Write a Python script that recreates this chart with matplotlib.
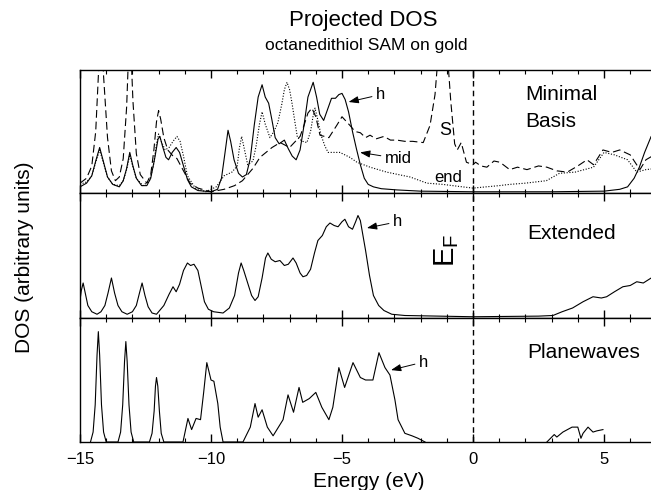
import matplotlib
matplotlib.use('Agg')
import matplotlib.pyplot as plt
from matplotlib.ticker import MultipleLocator, NullLocator

plt.rcParams['font.family'] = ['Liberation Sans', 'DejaVu Sans']

# --- Minimal basis panel (top) ---
min_h_e = [-15.0, -14.75, -14.55, -14.4, -14.25, -14.1, -13.95, -13.75, -13.5, -13.35, -13.22, -13.1,
           -12.98, -12.85, -12.65, -12.45, -12.3, -12.15, -12.02, -11.95, -11.85, -11.72, -11.62, -11.48,
           -11.33, -11.2, -11.05, -10.9, -10.75, -10.5, -10.0, -9.75, -9.6, -9.47, -9.35, -9.25, -9.12,
           -8.95, -8.8, -8.65, -8.5, -8.35, -8.2, -8.05, -7.93, -7.8, -7.68, -7.55, -7.4, -7.2, -7.05,
           -6.9, -6.75, -6.6, -6.45, -6.3, -6.1, -5.97, -5.85, -5.7, -5.55, -5.4, -5.25, -5.12, -5.0,
           -4.88, -4.75, -4.6, -4.45, -4.3, -4.15, -4.0, -3.8, -3.5, -2.9, -2.0, 0.0, 3.0, 5.0, 5.6,
           5.9, 6.15, 6.35, 6.55, 6.8, 7.0]
min_h_dos = [0.05, 0.08, 0.14, 0.26, 0.37, 0.25, 0.13, 0.07, 0.05, 0.10, 0.20, 0.33,
             0.22, 0.12, 0.06, 0.06, 0.12, 0.28, 0.44, 0.46, 0.38, 0.29, 0.27, 0.33,
             0.37, 0.33, 0.22, 0.11, 0.05, 0.02, 0.01, 0.03, 0.12, 0.32, 0.51, 0.42, 0.27,
             0.16, 0.13, 0.15, 0.28, 0.55, 0.78, 0.88, 0.78, 0.73, 0.60, 0.45, 0.40, 0.43, 0.36,
             0.30, 0.27, 0.35, 0.55, 0.78, 0.90, 0.78, 0.64, 0.59, 0.68, 0.77, 0.77, 0.80, 0.81,
             0.76, 0.66, 0.50, 0.36, 0.23, 0.12, 0.07, 0.05, 0.035, 0.025, 0.015, 0.01, 0.01, 0.015, 0.03,
             0.05, 0.12, 0.21, 0.33, 0.46, 0.50]

min_s_e = [-15.0, -14.75, -14.55, -14.4, -14.3, -14.2, -14.1, -13.95, -13.8, -13.65, -13.5, -13.35,
           -13.22, -13.1, -12.98, -12.85, -12.7, -12.45, -12.3, -12.18, -12.08, -12.0, -11.92, -11.8,
           -11.65, -11.45, -11.3, -11.05, -10.8, -10.5, -10.0, -9.5, -9.1, -8.8, -8.4, -8.13, -7.9,
           -7.67, -7.36, -7.0, -6.6, -6.45, -6.3, -6.15, -6.0, -5.84, -5.5, -5.2, -5.0, -4.7, -4.5,
           -4.3, -4.1, -3.93, -3.7, -3.4, -3.15, -2.9, -2.6, -2.3, -1.9, -1.64, -1.45, -1.3, -1.2,
           -1.0, -0.85, -0.7, -0.6, -0.45, -0.25, 0.0, 0.1, 0.3, 0.53, 0.8, 1.03, 1.4, 1.7, 2.06,
           2.5, 2.82, 3.2, 3.6, 4.0, 4.35, 4.6, 4.96, 5.3, 5.6, 6.0, 6.37, 6.6, 7.0]
min_s_dos = [0.08, 0.12, 0.22, 0.50, 0.95, 1.40, 0.95, 0.45, 0.18, 0.10, 0.13, 0.28,
             0.70, 1.40, 0.75, 0.32, 0.15, 0.08, 0.15, 0.35, 0.58, 0.67, 0.60, 0.45,
             0.35, 0.30, 0.28, 0.18, 0.08, 0.04, 0.01, 0.03, 0.06, 0.10, 0.20, 0.29, 0.33,
             0.37, 0.41, 0.37, 0.46, 0.55, 0.65, 0.69, 0.62, 0.47, 0.45, 0.55, 0.62, 0.55, 0.50,
             0.49, 0.45, 0.47, 0.44, 0.46, 0.43, 0.43, 0.42, 0.42, 0.41, 0.55, 0.80, 1.20, 1.40,
             1.20, 0.75, 0.40, 0.35, 0.41, 0.25, 0.23, 0.25, 0.22, 0.21, 0.26, 0.25, 0.19, 0.21, 0.19,
             0.22, 0.21, 0.18, 0.17, 0.22, 0.27, 0.23, 0.35, 0.33, 0.35, 0.31, 0.19, 0.27, 0.32]

min_end_e = [-15.0, -14.75, -14.55, -14.4, -14.25, -14.1, -13.95, -13.75, -13.5, -13.35, -13.22, -13.1,
             -12.98, -12.85, -12.6, -12.35, -12.2, -12.08, -12.0, -11.9, -11.75, -11.6, -11.45, -11.3,
             -11.18, -11.05, -10.9, -10.6, -10.2, -9.8, -9.5, -9.2, -9.0, -8.92, -8.83, -8.72, -8.6,
             -8.4, -8.28, -8.15, -8.05, -7.93, -7.75, -7.6, -7.45, -7.3, -7.2, -7.1, -7.0, -6.9,
             -6.8, -6.7, -6.5, -6.34, -6.2, -6.1, -6.03, -5.93, -5.8, -5.65, -5.53, -5.08, -4.7,
             -4.43, -3.93, -3.3, -2.4, -1.76, -1.15, -0.4, 0.0, 1.0, 1.4, 2.0, 2.8, 3.3, 3.9, 4.6,
             5.0, 5.4, 5.9, 6.25, 6.6, 7.0]
min_end_dos = [0.07, 0.09, 0.14, 0.25, 0.35, 0.24, 0.13, 0.07, 0.06, 0.10, 0.19, 0.31,
               0.21, 0.12, 0.06, 0.10, 0.22, 0.40, 0.48, 0.42, 0.35, 0.37, 0.42, 0.46,
               0.42, 0.30, 0.14, 0.04, 0.01, 0.05, 0.14, 0.17, 0.22, 0.36, 0.46, 0.35, 0.23,
               0.26, 0.38, 0.56, 0.66, 0.56, 0.45, 0.50, 0.57, 0.72, 0.84, 0.90, 0.84, 0.72,
               0.58, 0.45, 0.42, 0.41, 0.50, 0.63, 0.69, 0.60, 0.47, 0.38, 0.33, 0.33, 0.29,
               0.25, 0.21, 0.17, 0.13, 0.08, 0.07, 0.05, 0.04, 0.06, 0.07, 0.08, 0.10, 0.16, 0.17, 0.21,
               0.33, 0.31, 0.27, 0.17, 0.19, 0.20]

# --- Extended basis panel (middle) ---
ext_e = [-15.0, -14.95, -14.88, -14.8, -14.7, -14.55, -14.35, -14.2, -14.05, -13.93, -13.8, -13.68,
         -13.55, -13.4, -13.2, -13.0, -12.85, -12.73, -12.63, -12.52, -12.4, -12.25, -12.08, -11.8,
         -11.6, -11.45, -11.33, -11.2, -11.05, -10.9, -10.78, -10.65, -10.5, -10.38, -10.25, -10.1,
         -9.9, -9.54, -9.3, -9.1, -8.95, -8.85, -8.75, -8.63, -8.45, -8.32, -8.2, -8.05, -7.92,
         -7.83, -7.7, -7.55, -7.37, -7.2, -7.05, -6.87, -6.75, -6.6, -6.49, -6.35, -6.2, -6.05,
         -5.92, -5.75, -5.6, -5.46, -5.3, -5.15, -5.0, -4.89, -4.75, -4.6, -4.48, -4.39, -4.3,
         -4.2, -4.1, -3.95, -3.8, -3.6, -3.4, -3.1, -2.6, 0.0, 2.5, 3.05, 3.4, 3.8, 4.2, 4.58,
         4.9, 5.1, 5.4, 5.72, 6.0, 6.25, 6.5, 6.8, 7.0]
ext_dos = [0.14, 0.22, 0.28, 0.20, 0.10, 0.05, 0.03, 0.05, 0.10, 0.20, 0.32, 0.20,
           0.10, 0.05, 0.03, 0.05, 0.10, 0.20, 0.28, 0.18, 0.09, 0.04, 0.03, 0.10,
           0.19, 0.25, 0.21, 0.27, 0.38, 0.44, 0.42, 0.43, 0.38, 0.26, 0.13, 0.07,
           0.05, 0.04, 0.08, 0.18, 0.36, 0.44, 0.38, 0.30, 0.18, 0.14, 0.17, 0.32, 0.48,
           0.52, 0.47, 0.45, 0.46, 0.42, 0.43, 0.48, 0.44, 0.36, 0.33, 0.34, 0.39, 0.52,
           0.62, 0.66, 0.73, 0.76, 0.74, 0.73, 0.77, 0.79, 0.73, 0.71, 0.77, 0.82, 0.78,
           0.66, 0.54, 0.34, 0.18, 0.10, 0.06, 0.03, 0.02, 0.01, 0.015, 0.02, 0.05, 0.08, 0.13, 0.17,
           0.16, 0.17, 0.21, 0.25, 0.26, 0.29, 0.28, 0.32, 0.33]

# --- Planewaves panel (bottom) ---
pw_val_e = [-14.6, -14.5, -14.42, -14.35, -14.3, -14.25, -14.18, -14.1, -14.0, -13.55, -13.45, -13.37,
            -13.3, -13.25, -13.2, -13.13, -13.05, -12.95, -12.35, -12.25, -12.17, -12.12, -12.08, -12.03,
            -11.97, -11.9, -11.8, -11.07, -10.95, -10.88, -10.74, -10.57, -10.4, -10.28, -10.16, -10.0,
            -9.89, -9.74, -9.65, -9.54, -8.78, -8.5, -8.32, -8.2, -8.05, -7.85, -7.63, -7.25, -7.06,
            -6.85, -6.64, -6.5, -6.25, -6.0, -5.77, -5.5, -5.35, -5.12, -4.9, -4.58, -4.3, -4.1,
            -3.82, -3.59, -3.36, -3.17, -2.98, -2.86, -2.6, -2.33, -2.1, -1.83]
pw_val_dos = [0.0, 0.08, 0.30, 0.70, 0.89, 0.70, 0.30, 0.08, 0.0, 0.0, 0.08, 0.30,
              0.65, 0.81, 0.65, 0.30, 0.08, 0.0, 0.0, 0.07, 0.25, 0.45, 0.52, 0.45,
              0.25, 0.07, 0.0, 0.0, 0.12, 0.19, 0.10, 0.19, 0.18, 0.40, 0.64, 0.50,
              0.49, 0.31, 0.12, 0.0, 0.0, 0.12, 0.31, 0.20, 0.26, 0.12, 0.05, 0.18, 0.38,
              0.24, 0.44, 0.32, 0.35, 0.40, 0.28, 0.18, 0.28, 0.60, 0.44, 0.64, 0.52, 0.50,
              0.50, 0.72, 0.60, 0.54, 0.34, 0.18, 0.07, 0.05, 0.03, 0.0]
pw_cond_e = [2.82, 3.1, 3.2, 3.43, 3.78, 4.0, 4.12, 4.2, 4.39, 4.58, 4.73, 4.96]
pw_cond_dos = [0.0, 0.06, 0.04, 0.08, 0.12, 0.12, 0.03, 0.07, 0.12, 0.08, 0.09, 0.10]

fig = plt.figure(figsize=(6.51, 4.9), dpi=100)

left = 80 / 651
width = (26.2 * 22) / 651
panel_px = [(70, 193), (193, 318), (318, 442)]
axes = []
for top, bot in panel_px:
    ax = fig.add_axes([left, 1 - bot / 490, width, (bot - top) / 490])
    axes.append(ax)

lw = 0.8
ax1, ax2, ax3 = axes
ax1.plot(min_h_e, min_h_dos, color='k', lw=lw)
ax1.plot(min_s_e, min_s_dos, color='k', lw=lw, ls=(0, (7, 3.5)))
ax1.plot(min_end_e, min_end_dos, color='k', lw=lw, ls=(0, (1, 1.5)))
ax2.plot(ext_e, ext_dos, color='k', lw=lw)
ax3.plot(pw_val_e, pw_val_dos, color='k', lw=lw)
ax3.plot(pw_cond_e, pw_cond_dos, color='k', lw=lw)

for ax in axes:
    ax.set_xlim(-15, 7)
    ax.set_ylim(0, 1)
    ax.axvline(0, color='k', lw=1, ls=(0, (4, 3)))
    ax.xaxis.set_major_locator(MultipleLocator(5))
    ax.xaxis.set_minor_locator(MultipleLocator(1))
    ax.yaxis.set_major_locator(NullLocator())
    ax.tick_params(which='both', direction='in', top=True, bottom=True, left=False, right=False)
    ax.tick_params(which='major', length=6, width=1)
    ax.tick_params(which='minor', length=3, width=0.8)
    ax.tick_params(axis='x', labelsize=12, pad=7)
    for s in ax.spines.values():
        s.set_linewidth(1)
ax1.tick_params(labelbottom=False)
ax2.tick_params(labelbottom=False)
ax3.set_xticks([-15, -10, -5, 0, 5])
ax3.set_xticklabels(['\u221215', '\u221210', '\u22125', '0', '5'])

arrow = dict(arrowstyle='-|>,head_length=0.5,head_width=0.18', color='k', lw=0.7, shrinkA=1, shrinkB=0)

# top panel labels
ax1.annotate('h', xy=(-4.75, 0.74), xytext=(-3.7, 0.80), fontsize=12, ha='left', va='center', arrowprops=arrow)
ax1.annotate('mid', xy=(-4.31, 0.33), xytext=(-3.36, 0.28), fontsize=12, ha='left', va='center', arrowprops=arrow)
ax1.text(-1.07, 0.51, 'S', fontsize=13, ha='center', va='center')
ax1.text(-0.95, 0.13, 'end', fontsize=12, ha='center', va='center')
ax1.text(1.98, 0.80, 'Minimal', fontsize=15, ha='left', va='center')
ax1.text(1.98, 0.58, 'Basis', fontsize=15, ha='left', va='center')

# middle panel labels
ax2.annotate('h', xy=(-4.05, 0.72), xytext=(-3.05, 0.77), fontsize=12, ha='left', va='center', arrowprops=arrow)
ax2.text(-0.99, 0.54, r'$\mathregular{E_F}$', fontsize=21, rotation=90, ha='center', va='center')
ax2.text(2.06, 0.68, 'Extended', fontsize=15, ha='left', va='center')

# bottom panel labels
ax3.annotate('h', xy=(-3.13, 0.58), xytext=(-2.06, 0.645), fontsize=12, ha='left', va='center', arrowprops=arrow)
ax3.text(2.06, 0.72, 'Planewaves', fontsize=15, ha='left', va='center')

fig.text(0.558, 0.959, 'Projected DOS', fontsize=16, ha='center', va='center')
fig.text(0.563, 0.908, 'octanedithiol SAM on gold', fontsize=12.5, ha='center', va='center')
fig.text(0.566, 0.006, 'Energy (eV)', fontsize=15, ha='center', va='baseline')
fig.text(0.037, 0.476, 'DOS (arbitrary units)', fontsize=15, rotation=90, ha='center', va='center')

fig.savefig('out.png', dpi=100)
